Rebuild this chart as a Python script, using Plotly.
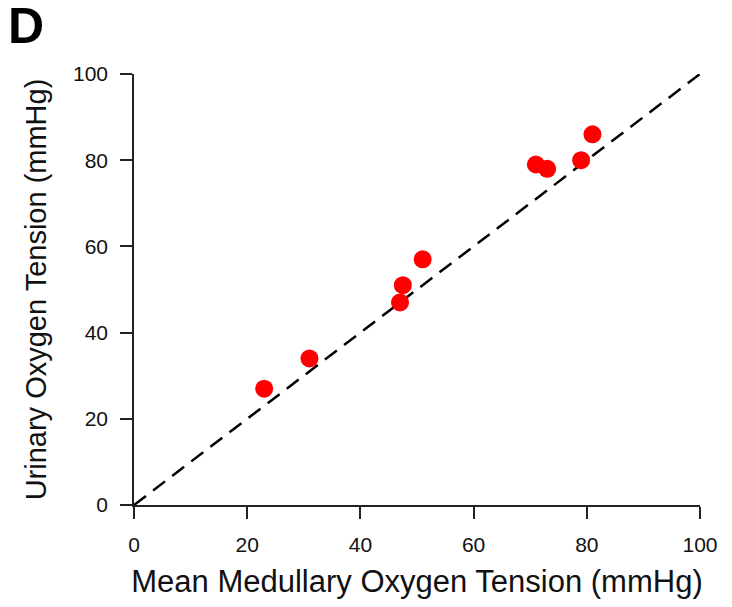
import plotly.graph_objects as go

medullary = [23, 31, 47, 47.5, 51, 71, 73, 79, 81]
urinary = [27, 34, 47, 51, 57, 79, 78, 80, 86]
identity_x = [0, 100]
identity_y = [0, 100]
tick_vals = [0, 20, 40, 60, 80, 100]

font_family = "Liberation Sans, Arial, sans-serif"

fig = go.Figure()
fig.add_trace(go.Scatter(x=identity_x, y=identity_y, mode="lines",
                         line=dict(color="black", width=2.5, dash="15px,9px"),
                         showlegend=False, hoverinfo="skip"))
fig.add_trace(go.Scatter(x=medullary, y=urinary, mode="markers",
                         marker=dict(color="#ff0000", size=18, line=dict(width=0)),
                         showlegend=False))

axis_common = dict(range=[0, 100], tickvals=tick_vals, ticks="outside", ticklen=12,
                   tickwidth=1.5, tickcolor="#222", showline=True, linecolor="#222",
                   linewidth=1.5, showgrid=False, zeroline=False, mirror=False,
                   ticklabelstandoff=8,
                   tickfont=dict(family=font_family, size=21, color="#111"))

fig.update_xaxes(**axis_common,
                 title=dict(text="Mean Medullary Oxygen Tension (mmHg)", standoff=15,
                            font=dict(family=font_family, size=31, color="#111")))
fig.update_yaxes(**axis_common,
                 title=dict(text="Urinary Oxygen Tension (mmHg)", standoff=18,
                            font=dict(family=font_family, size=29, color="#111")))

fig.add_annotation(text="<b>D</b>", xref="paper", yref="paper", x=-0.2235, y=1.112,
                   xanchor="left", yanchor="middle", showarrow=False, borderpad=0,
                   font=dict(family=font_family, size=50, color="black"))

fig.update_layout(width=732, height=607, plot_bgcolor="white", paper_bgcolor="white",
                  margin=dict(l=126, r=40, t=66, b=110, autoexpand=False))

fig.write_html("out.html")
